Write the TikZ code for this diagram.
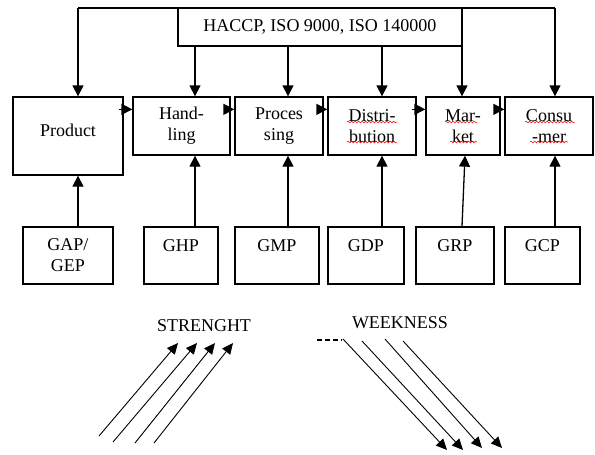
\documentclass[tikz,border=0pt]{standalone}
\usepackage{fontspec}
\setmainfont{Liberation Serif}
\usetikzlibrary{arrows.meta,decorations.pathmorphing}

\begin{document}
\begin{tikzpicture}[
    x=1pt,y=-1pt,
    >={Triangle[length=11pt,width=11pt]},
    every node/.style={font=\fontsize{18}{21}\selectfont},
    box/.style={draw,line width=1.3pt,align=center,inner sep=0pt,minimum height=58},
    gbox/.style={box,minimum height=57},
    lift/.style={text depth=20pt},
    ar/.style={->,line width=1.3pt},
    diag/.style={->,line width=0.9pt,>={Triangle[length=11pt,width=10pt]}},
    squig/.style={red,line width=0.5pt,decorate,
      decoration={snake,amplitude=0.9pt,segment length=3.5pt}},
  ]
  \useasboundingbox (0,0) rectangle (595,455);

  % -- standards on top --
  \node[box,minimum width=284,minimum height=38] (haccp) at (320,27)
       {HACCP, ISO 9000, ISO 140000};

  % -- the chain --
  \node[box,minimum width=110,minimum height=78,text depth=12pt] (prod) at (68,136) {Product};
  \node[box,minimum width=97] (hand) at (181.5,126) {Hand-\\ling};
  \node[box,minimum width=88] (proc) at (279,126) {Proces\\sing};
  \node[box,minimum width=88] (dist) at (372,126) {Distri-\\bution};
  \node[box,minimum width=74] (mark) at (463,126) {Mar-\\ket};
  \node[box,minimum width=88] (cons) at (549,126) {Consu\\-mer};

  % -- good practices below --
  \node[gbox,minimum width=90] (gap) at (68,255.5) {GAP/\\GEP};
  \node[gbox,lift,minimum width=74] (ghp) at (181,255.5) {GHP};
  \node[gbox,lift,minimum width=84] (gmp) at (277,255.5) {GMP};
  \node[gbox,lift,minimum width=76] (gdp) at (366,255.5) {GDP};
  \node[gbox,lift,minimum width=78] (grp) at (455,255.5) {GRP};
  \node[gbox,lift,minimum width=75] (gcp) at (542.5,255.5) {GCP};

  % -- arrow columns --
  \foreach \n/\x in {c1/78,c2/195,c3/288,c4/382,c5/462,c5t/465,c6/555}
    \coordinate (\n) at (\x,8);

  \draw[line width=1.3pt] (c1) -- (c6);
  \draw[ar] (c1) -- (c1 |- prod.north);
  \draw[ar] (haccp.south -| c2) -- (hand.north -| c2);
  \draw[ar] (haccp.south -| c3) -- (proc.north -| c3);
  \draw[ar] (haccp.south -| c4) -- (dist.north -| c4);
  \draw[ar] (c5) -- (c5 |- mark.north);
  \draw[ar] (c6) -- (c6 |- cons.north);

  \foreach \a/\b in {prod/hand,hand/proc,proc/dist,dist/mark,mark/cons}
    \draw[ar] ([xshift=-5,yshift=-13]\a.north east) -- ([yshift=-13]\b.north west);

  \draw[ar] (gap.north -| c1) -- (prod.south -| c1);
  \draw[ar] (ghp.north -| c2) -- (hand.south -| c2);
  \draw[ar] (gmp.north -| c3) -- (proc.south -| c3);
  \draw[ar] (gdp.north -| c4) -- (dist.south -| c4);
  \draw[ar] (grp.north -| c5) -- (mark.south -| c5t);
  \draw[ar] (gcp.north -| c6) -- (cons.south -| c6);

  % -- spell check marks --
  \foreach \a/\b/\y in {347/397/122,347/397/142,445/477/122,450/477/142,525/575/122,530/568/142}
    \draw[squig] (\a,\y) -- (\b,\y);

  % -- strength and weakness --
  \node (str) at (204,326) {STRENGHT};
  \node (wea) at (400,323) {WEEKNESS};
  \foreach \a/\b/\c/\d in {99/436/178/343,113/442/197/343,135/443/215/343,154/443/233/343}
    \draw[diag] (\a,\b) -- (\c,\d);
  \foreach \a/\b/\c/\d in {343/339/447/450,362/341/463/450,385/339/482/448,403/341/502/448}
    \draw[diag] (\a,\b) -- (\c,\d);
  \draw[line width=1.5pt,dash pattern=on 5pt off 3pt] (317,340) -- (342,340);
\end{tikzpicture}
\end{document}
